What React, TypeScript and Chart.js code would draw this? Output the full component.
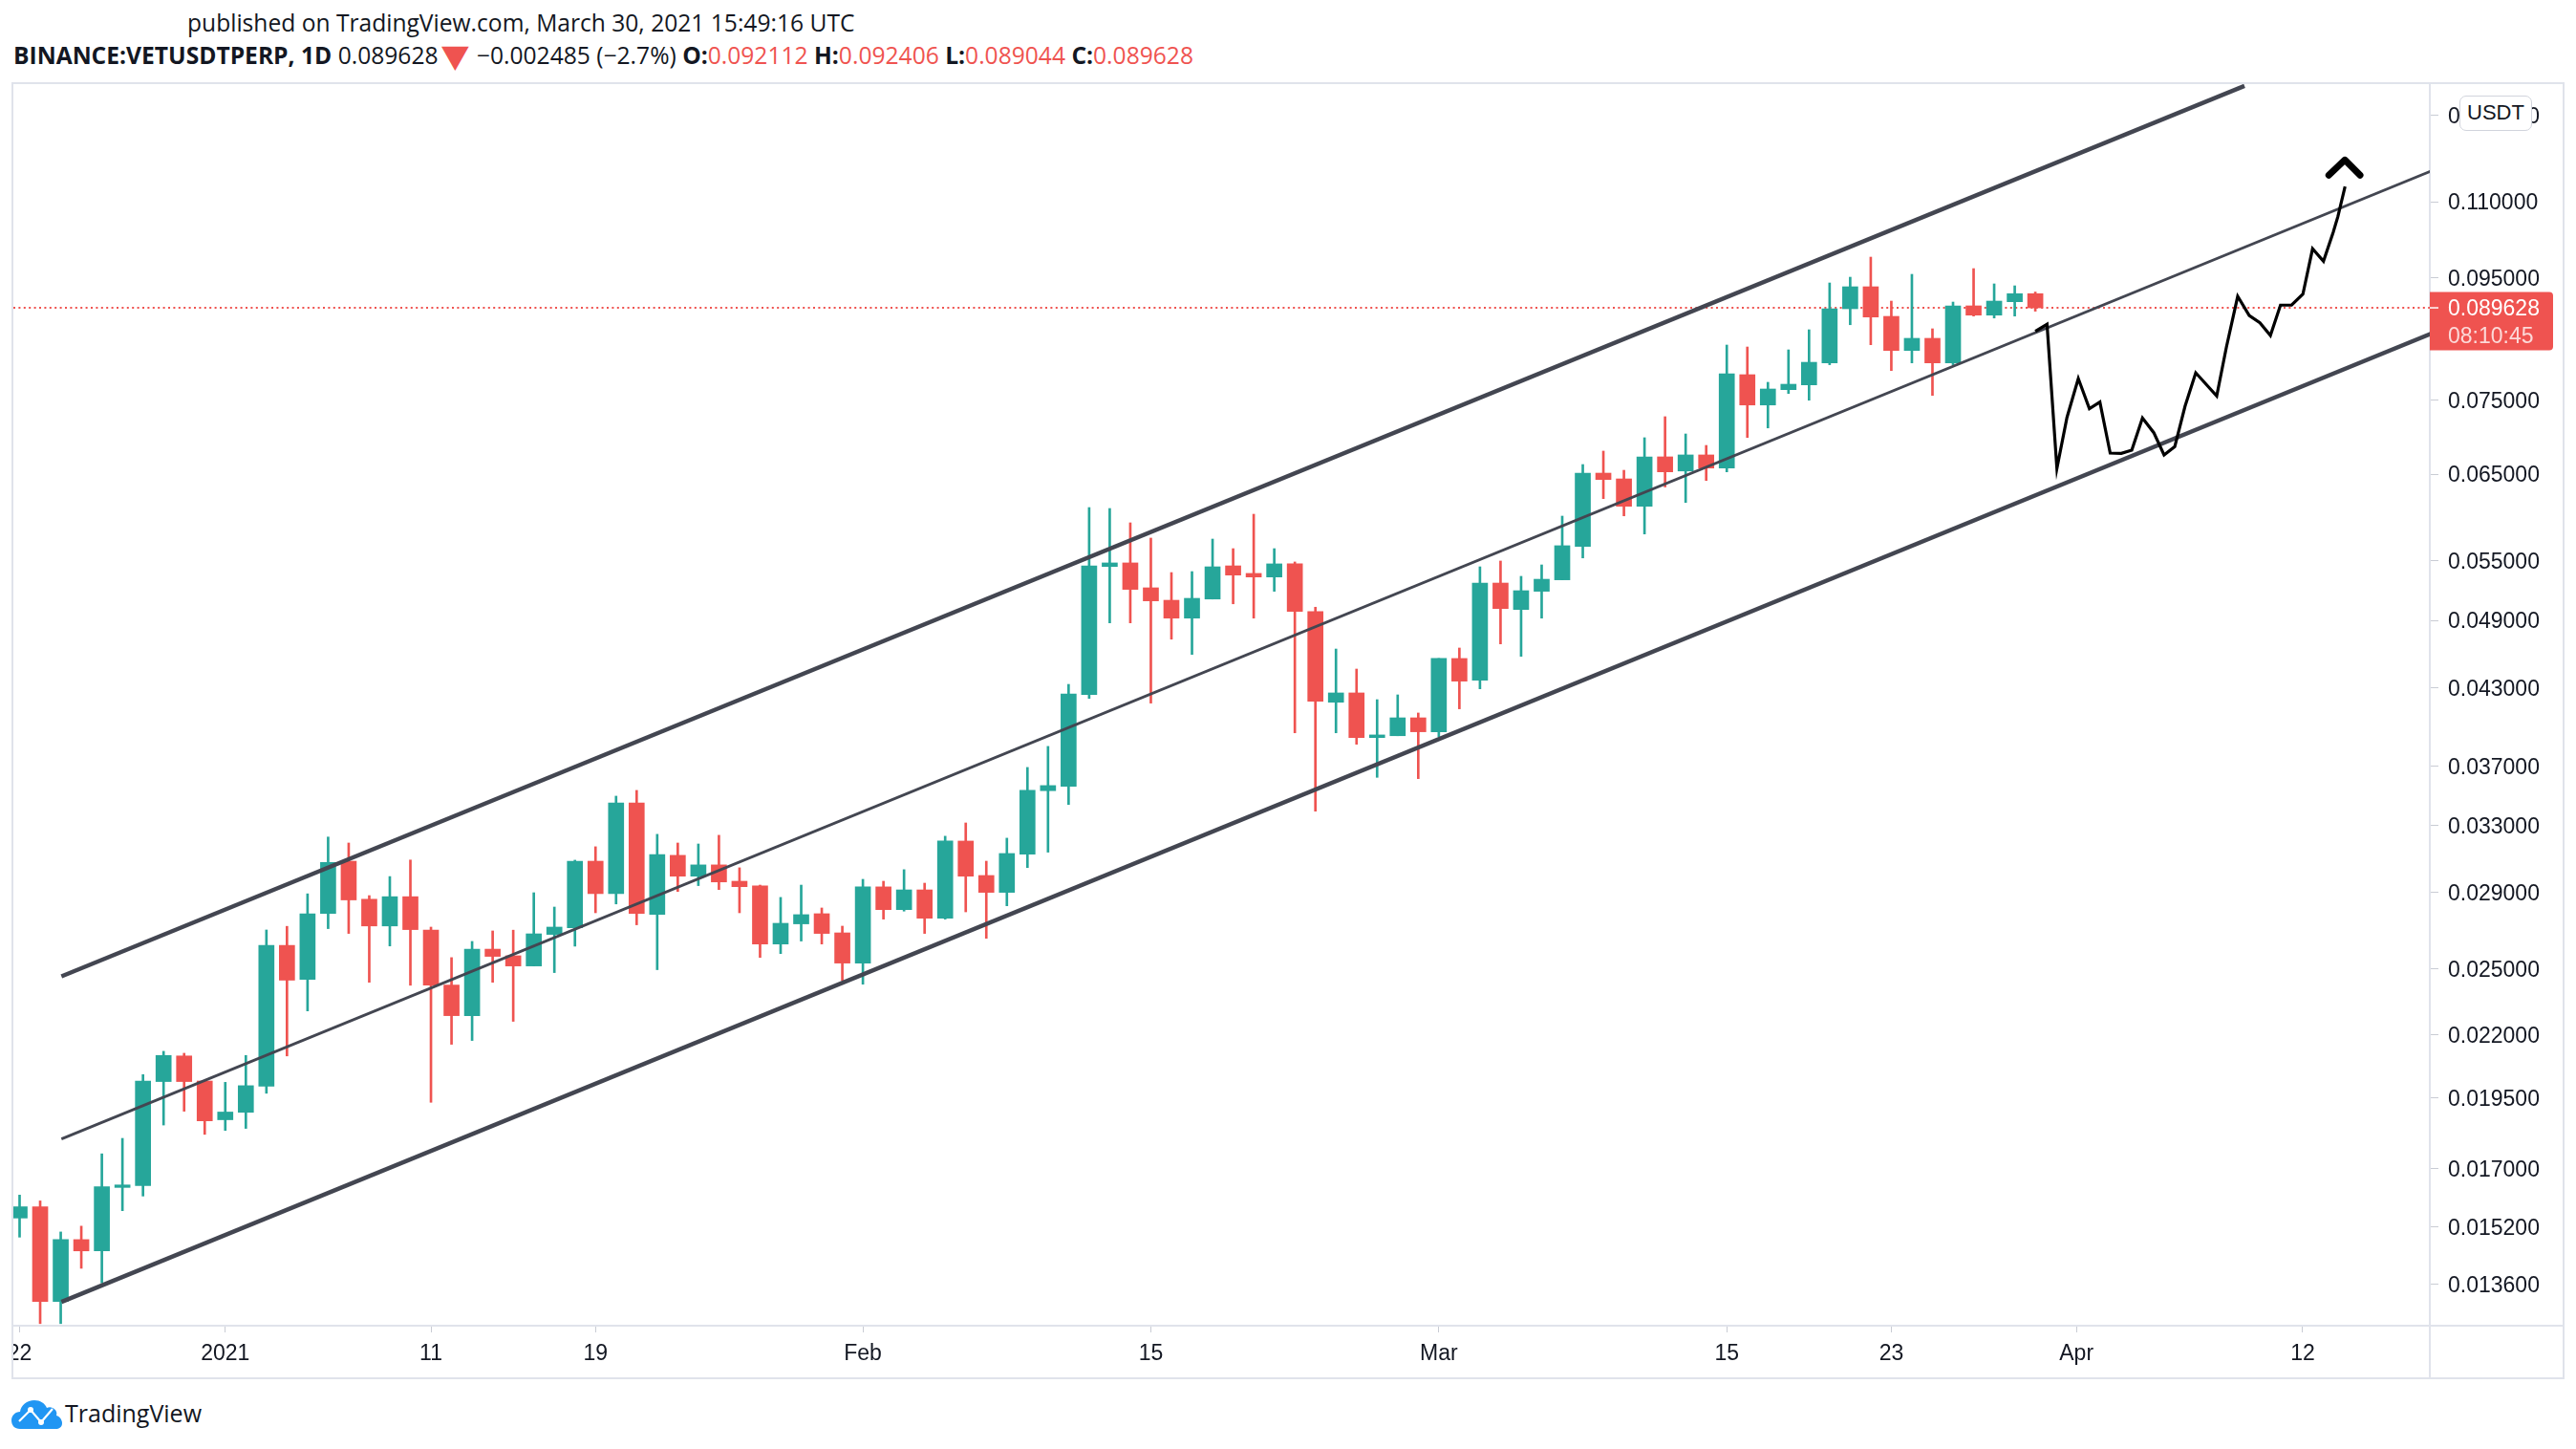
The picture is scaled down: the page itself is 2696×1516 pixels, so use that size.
import React, { useEffect, useRef } from 'react';
import { Chart, registerables } from 'chart.js';

Chart.register(...registerables);

// ---------- data ----------
const SYMBOL = 'BINANCE:VETUSDTPERP';
const INTERVAL = '1D';
const PUBLISHED = 'published on TradingView.com, March 30, 2021 15:49:16 UTC';
const CURRENCY = 'USDT';
const COUNTDOWN = '08:10:45';
const START_DATE = '2020-12-22';

const opens = [
  0.01545, 0.01579, 0.01315, 0.01482, 0.0145, 0.01639, 0.01645, 0.02011, 0.02113, 0.02013,
  0.01868, 0.01895, 0.01993, 0.02616, 0.0245, 0.02783, 0.03078, 0.0286, 0.02716, 0.02874,
  0.02695, 0.02423, 0.02284, 0.02597, 0.02564, 0.02514, 0.02672, 0.02707, 0.03078, 0.02891,
  0.03445, 0.02777, 0.03113, 0.0299, 0.03056, 0.02961, 0.02934, 0.02623, 0.02727, 0.02781,
  0.0268, 0.02528, 0.02929, 0.02803, 0.02912, 0.02757, 0.032, 0.02994, 0.02898, 0.0312,
  0.03527, 0.03557, 0.04247, 0.05438, 0.05476, 0.05219, 0.05095, 0.04922, 0.05107, 0.05445,
  0.05366, 0.05329, 0.05466, 0.04986, 0.04184, 0.0426, 0.03908, 0.03922, 0.0406, 0.03952,
  0.04553, 0.04366, 0.05267, 0.05005, 0.05184, 0.053, 0.05653, 0.06513, 0.06441, 0.06109,
  0.06721, 0.0654, 0.06746, 0.06577, 0.07877, 0.07429, 0.07652, 0.07723, 0.08058, 0.08947,
  0.09335, 0.08816, 0.08254, 0.0845, 0.08058, 0.08997, 0.08837, 0.09069, 0.092112,
];
const highs = [
  0.01615, 0.01597, 0.01504, 0.01521, 0.01749, 0.01802, 0.02038, 0.02132, 0.02124, 0.02015,
  0.02008, 0.02115, 0.02695, 0.02714, 0.0289, 0.03225, 0.03188, 0.0288, 0.02988, 0.03085,
  0.0271, 0.02555, 0.02636, 0.0269, 0.02694, 0.02896, 0.02817, 0.03084, 0.03165, 0.0349,
  0.03529, 0.03242, 0.03188, 0.03182, 0.03236, 0.03039, 0.02939, 0.0287, 0.02939, 0.02812,
  0.02715, 0.02972, 0.02961, 0.03028, 0.0295, 0.0323, 0.03314, 0.03078, 0.03218, 0.03689,
  0.03842, 0.04331, 0.06094, 0.06083, 0.05917, 0.05745, 0.05375, 0.05385, 0.05734, 0.05629,
  0.06016, 0.05629, 0.05486, 0.05027, 0.04637, 0.04461, 0.04205, 0.04244, 0.04098, 0.04553,
  0.04646, 0.05435, 0.05496, 0.05336, 0.05455, 0.05994, 0.06622, 0.06796, 0.06549, 0.06974,
  0.07263, 0.07025, 0.06871, 0.08341, 0.0831, 0.07762, 0.08264, 0.08591, 0.09404, 0.09509,
  0.09885, 0.0908, 0.09562, 0.08607, 0.09063, 0.09668, 0.09387, 0.09352, 0.092406,
];
const lows = [
  0.01489, 0.0126, 0.0126, 0.01402, 0.01363, 0.01567, 0.01612, 0.01849, 0.01899, 0.01816,
  0.0183, 0.01837, 0.01966, 0.02113, 0.02305, 0.02702, 0.02677, 0.02436, 0.02613, 0.02422,
  0.01932, 0.02161, 0.02177, 0.02436, 0.02259, 0.02514, 0.02482, 0.02612, 0.02786, 0.02834,
  0.02722, 0.02496, 0.02903, 0.02936, 0.02914, 0.02786, 0.02556, 0.02575, 0.02638, 0.02623,
  0.02445, 0.02427, 0.02752, 0.02795, 0.02677, 0.02752, 0.02791, 0.02652, 0.02824, 0.0304,
  0.03132, 0.03434, 0.04215, 0.04877, 0.04877, 0.04177, 0.04726, 0.04589, 0.05107, 0.0506,
  0.04922, 0.05184, 0.03944, 0.0339, 0.03944, 0.03858, 0.03619, 0.03922, 0.0361, 0.03915,
  0.04131, 0.04294, 0.04683, 0.04572, 0.04922, 0.053, 0.05529, 0.062, 0.05997, 0.05791,
  0.06341, 0.06154, 0.06421, 0.06529, 0.06977, 0.07107, 0.07596, 0.07498, 0.0803, 0.08675,
  0.08346, 0.0794, 0.08058, 0.07568, 0.0803, 0.08821, 0.08788, 0.08821, 0.089044,
];
const closes = [
  0.01579, 0.01315, 0.01482, 0.0145, 0.01641, 0.01647, 0.02013, 0.02115, 0.02011, 0.01864,
  0.01896, 0.01995, 0.02616, 0.02446, 0.02781, 0.03071, 0.02856, 0.02716, 0.02874, 0.02697,
  0.02423, 0.02284, 0.02597, 0.02561, 0.02514, 0.02675, 0.0271, 0.03078, 0.02891, 0.03445,
  0.02783, 0.03118, 0.0299, 0.03056, 0.02957, 0.0293, 0.02623, 0.0273, 0.02776, 0.02677,
  0.02528, 0.02929, 0.02803, 0.02912, 0.02757, 0.032, 0.0299, 0.02898, 0.03124, 0.03529,
  0.03562, 0.04252, 0.05445, 0.05476, 0.05203, 0.05089, 0.04922, 0.05114, 0.05435, 0.05349,
  0.05329, 0.05466, 0.04986, 0.04192, 0.0426, 0.03908, 0.03928, 0.0406, 0.03952, 0.04553,
  0.04358, 0.05267, 0.05014, 0.0519, 0.05306, 0.05661, 0.06513, 0.06433, 0.06109, 0.06721,
  0.06529, 0.06746, 0.06577, 0.07892, 0.07429, 0.07662, 0.07733, 0.08068, 0.08947, 0.09335,
  0.08805, 0.08254, 0.0845, 0.08058, 0.08997, 0.08837, 0.0908, 0.092113, 0.089628,
];

// time-axis ticks
const xTickDates = [
  '2020-12-22', '2021-01-01', '2021-01-11', '2021-01-19', '2021-02-01', '2021-02-15',
  '2021-03-01', '2021-03-15', '2021-03-23', '2021-04-01', '2021-04-12',
];
const xTickLabels = ['22', '2021', '11', '19', 'Feb', '15', 'Mar', '15', '23', 'Apr', '12'];

// price-axis ticks
const yTickValues = [
  0.0136, 0.0152, 0.017, 0.0195, 0.022, 0.025, 0.029, 0.033, 0.037, 0.043,
  0.049, 0.055, 0.065, 0.075, 0.095, 0.11, 0.13,
];

// visible range (days since start, price)
const X_MIN = -0.302;
const X_MAX = 117.18;
const Y_MIN = 0.012549;
const Y_MAX = 0.13807;

// ascending channel drawings (days since start, price)
const upperChannelDays = [2.035, 108.17];
const upperChannelValues = [0.02464, 0.1376];
const middleChannelDays = [2.035, 117.5];
const middleChannelValues = [0.018, 0.1172];
const lowerChannelDays = [2.035, 117.5];
const lowerChannelValues = [0.01314, 0.08563];

// hand-drawn projection path
const projectionDays = [
  98.0, 98.57, 99.05, 99.54, 100.09, 100.63, 101.14, 101.64, 102.18, 102.69,
  103.21, 103.76, 104.26, 104.78, 105.28, 105.8, 106.82, 107.29, 107.84, 108.4,
  108.92, 109.43, 109.92, 110.46, 111.01, 111.48, 112.01, 112.48, 112.71, 113.06,
];
const projectionValues = [
  0.08564, 0.08682, 0.06573, 0.07253, 0.07819, 0.07375, 0.07471, 0.0677, 0.06766, 0.06808,
  0.07245, 0.07042, 0.06746, 0.06855, 0.07411, 0.07906, 0.07559, 0.08306, 0.09164, 0.08832,
  0.08708, 0.08496, 0.09009, 0.09009, 0.09203, 0.10045, 0.09807, 0.10365, 0.10688, 0.11332,
];
const arrowDays = [112.27, 113.05, 113.79];
const arrowValues = [0.11579, 0.11926, 0.11579];

// ---------- styling ----------
const UP = '#26a69a';
const DOWN = '#ef5350';
const TEXT = '#131722';
const LINE = '#434651';
const FRAME = '#e0e3eb';
const AXIS_FONT = '"Liberation Sans", Arial, sans-serif';
const UI_FONT = '"Open Sans", "Liberation Sans", sans-serif';

const dayIndex = (d: string) =>
  (Date.parse(d + 'T00:00:00Z') - Date.parse(START_DATE + 'T00:00:00Z')) / 86400000;

const fmt = (v: number) => v.toFixed(6);

export default function App() {
  const ref = useRef<HTMLCanvasElement | null>(null);
  const n = closes.length;
  const last = closes[n - 1];
  const prev = closes[n - 2];
  const change = last - prev;
  const pct = (change / prev) * 100;
  const minus = '\u2212';

  useEffect(() => {
    document.body.style.margin = '0';
    const canvas = ref.current;
    if (!canvas) return;
    const idx = closes.map((_, i) => i);
    const colors = idx.map((i) => (closes[i] >= opens[i] ? UP : DOWN));
    const xTickDays = xTickDates.map(dayIndex);
    const toPts = (xs: number[], ys: number[]) => xs.map((x, i) => ({ x, y: ys[i] }));

    const decor = {
      id: 'decor',
      afterDraw(chart: any) {
        const { ctx, chartArea } = chart;
        const y = chart.scales.y;
        const py = y.getPixelForValue(last);
        ctx.save();
        // separators across the full axis strips
        ctx.strokeStyle = FRAME;
        ctx.lineWidth = 2;
        ctx.beginPath();
        ctx.moveTo(chartArea.right, chartArea.bottom);
        ctx.lineTo(chart.width, chartArea.bottom);
        ctx.moveTo(chartArea.right, chartArea.bottom);
        ctx.lineTo(chartArea.right, chart.height);
        ctx.stroke();
        // last price label
        const lx = chartArea.right;
        const top = py - 16.5;
        const w = 129;
        const h = 61;
        const r = 4;
        ctx.fillStyle = DOWN;
        ctx.beginPath();
        ctx.moveTo(lx, top);
        ctx.lineTo(lx + w - r, top);
        ctx.quadraticCurveTo(lx + w, top, lx + w, top + r);
        ctx.lineTo(lx + w, top + h - r);
        ctx.quadraticCurveTo(lx + w, top + h, lx + w - r, top + h);
        ctx.lineTo(lx, top + h);
        ctx.closePath();
        ctx.fill();
        ctx.strokeStyle = '#ffffff';
        ctx.lineWidth = 1.5;
        ctx.beginPath();
        ctx.moveTo(lx, py);
        ctx.lineTo(lx + 9, py);
        ctx.stroke();
        ctx.font = '23px ' + AXIS_FONT;
        ctx.textBaseline = 'middle';
        ctx.textAlign = 'left';
        ctx.fillStyle = '#ffffff';
        ctx.fillText(fmt(last), lx + 19, py + 2);
        ctx.fillStyle = 'rgba(255,255,255,0.78)';
        ctx.fillText(COUNTDOWN, lx + 19, py + 31);
        ctx.restore();
      },
    };

    const chart = new Chart(canvas, {
      type: 'bar',
      data: {
        datasets: [
          {
            type: 'line',
            label: 'projection',
            data: toPts(projectionDays, projectionValues),
            borderColor: '#000000',
            borderWidth: 3.2,
            borderJoinStyle: 'miter',
            pointRadius: 0,
            tension: 0,
            order: 0,
            clip: 0,
          },
          {
            type: 'line',
            label: 'arrow',
            data: toPts(arrowDays, arrowValues),
            borderColor: '#000000',
            borderWidth: 7,
            borderCapStyle: 'round',
            borderJoinStyle: 'round',
            pointRadius: 0,
            tension: 0,
            order: 0,
            clip: 0,
          },
          {
            type: 'line',
            label: 'upper',
            data: toPts(upperChannelDays, upperChannelValues),
            borderColor: LINE,
            borderWidth: 4.5,
            pointRadius: 0,
            order: 1,
            clip: 0,
          },
          {
            type: 'line',
            label: 'middle',
            data: toPts(middleChannelDays, middleChannelValues),
            borderColor: LINE,
            borderWidth: 2.8,
            pointRadius: 0,
            order: 1,
            clip: 0,
          },
          {
            type: 'line',
            label: 'lower',
            data: toPts(lowerChannelDays, lowerChannelValues),
            borderColor: LINE,
            borderWidth: 4.5,
            pointRadius: 0,
            order: 1,
            clip: 0,
          },
          {
            type: 'bar',
            label: 'body',
            data: idx.map((i) => ({ x: i, y: [opens[i], closes[i]] })),
            backgroundColor: colors,
            borderWidth: 0,
            barThickness: 16,
            grouped: false,
            order: 2,
          },
          {
            type: 'bar',
            label: 'wick',
            data: idx.map((i) => ({ x: i, y: [lows[i], highs[i]] })),
            backgroundColor: colors,
            borderWidth: 0,
            barThickness: 2,
            grouped: false,
            order: 3,
          },
          {
            type: 'line',
            label: 'last price',
            data: [
              { x: X_MIN, y: last },
              { x: X_MAX, y: last },
            ],
            borderColor: DOWN,
            borderWidth: 2,
            borderDash: [2, 3.4],
            pointRadius: 0,
            order: 4,
            clip: 0,
          },
        ],
      } as any,
      options: {
        animation: false,
        responsive: false,
        maintainAspectRatio: false,
        devicePixelRatio: 1,
        layout: { padding: 0 },
        plugins: { legend: { display: false }, tooltip: { enabled: false } },
        scales: {
          x: {
            type: 'linear',
            offset: false,
            min: X_MIN,
            max: X_MAX,
            grid: {
              display: true,
              offset: false,
              drawOnChartArea: false,
              drawTicks: true,
              tickLength: 7,
              color: '#c9ccd4',
            },
            border: { display: true, color: FRAME, width: 2 },
            ticks: {
              autoSkip: false,
              maxRotation: 0,
              minRotation: 0,
              padding: 9,
              color: TEXT,
              font: { family: AXIS_FONT, size: 23 },
              callback: (_v: any, i: number) => xTickLabels[i],
            },
            afterBuildTicks: (s: any) => {
              s.ticks = xTickDays.map((v) => ({ value: v }));
            },
            afterFit: (s: any) => {
              s.height = 54;
              s.paddingLeft = 0;
              s.paddingRight = 0;
            },
          },
          y: {
            type: 'logarithmic',
            position: 'right',
            min: Y_MIN,
            max: Y_MAX,
            grid: { display: true, drawOnChartArea: false, drawTicks: true, tickLength: 9, color: '#c9ccd4' },
            border: { display: true, color: FRAME, width: 2 },
            ticks: {
              autoSkip: false,
              padding: 10,
              labelOffset: 2,
              color: TEXT,
              font: { family: AXIS_FONT, size: 23 },
              callback: (v: any) => fmt(Number(v)),
            },
            afterBuildTicks: (s: any) => {
              s.ticks = yTickValues.map((v) => ({ value: v }));
            },
            afterFit: (s: any) => {
              s.width = 139;
              s.paddingTop = 0;
              s.paddingBottom = 0;
            },
          },
        },
      } as any,
      plugins: [decor],
    });
    return () => chart.destroy();
  }, []);

  const red = { color: DOWN };

  return (
    <div
      style={{
        position: 'fixed',
        left: 0,
        top: 0,
        width: 2696,
        height: 1516,
        background: '#ffffff',
        color: TEXT,
        fontFamily: UI_FONT,
        overflow: 'hidden',
      }}
    >
      <div style={{ position: 'absolute', left: 196, top: 9, fontSize: 24.6, lineHeight: '30px', whiteSpace: 'nowrap' }}>
        {PUBLISHED}
      </div>
      <div style={{ position: 'absolute', left: 14, top: 43, fontSize: 24.6, lineHeight: '30px', whiteSpace: 'nowrap' }}>
        <b>
          {SYMBOL}, {INTERVAL}
        </b>{' '}
        {fmt(last)}
        <span
          style={{
            ...red,
            display: 'inline-block',
            fontFamily: '"DejaVu Sans", sans-serif',
            fontSize: 22,
            lineHeight: '30px',
            transform: 'scale(1.7, 1.5)',
            transformOrigin: '50% 55%',
            margin: '0 8px 0 9px',
          }}
        >
          ▼
        </span>{' '}
        {change < 0 ? minus : '+'}
        {fmt(Math.abs(change))} ({change < 0 ? minus : '+'}
        {Math.abs(pct).toFixed(1)}%) <b>O:</b>
        <span style={red}>{fmt(opens[n - 1])}</span> <b>H:</b>
        <span style={red}>{fmt(highs[n - 1])}</span> <b>L:</b>
        <span style={red}>{fmt(lows[n - 1])}</span> <b>C:</b>
        <span style={red}>{fmt(closes[n - 1])}</span>
      </div>

      <canvas
        ref={ref}
        width={2668}
        height={1353}
        style={{ position: 'absolute', left: 14, top: 88, width: 2668, height: 1353 }}
      />
      <div
        style={{
          position: 'absolute',
          left: 12,
          top: 86,
          width: 2672,
          height: 1357,
          border: '2px solid ' + FRAME,
          boxSizing: 'border-box',
          pointerEvents: 'none',
        }}
      />
      <div
        style={{
          position: 'absolute',
          left: 2574,
          top: 100,
          width: 76,
          height: 37,
          boxSizing: 'border-box',
          border: '1.5px solid #d1d4dc',
          borderRadius: 7,
          background: '#ffffff',
          fontFamily: AXIS_FONT,
          fontSize: 22,
          lineHeight: '34px',
          textAlign: 'center',
          color: TEXT,
        }}
      >
        {CURRENCY}
      </div>

      <svg
        style={{ position: 'absolute', left: 12, top: 1464 }}
        width={53}
        height={31}
        viewBox="0 0 53 31"
      >
        <path
          d="M9 31 C3 31 0 27 0 22 C0 17 4 13 9 13 C10 6 16 1 24 1 C30 1 35 4 37 9 C39 8 41 8 43 9 C47 11 48 14 47 17 C51 18 53 22 53 25 C53 29 50 31 46 31 Z"
          fill="#2196f3"
        />
        <polyline points="8,23 20,11 31,24 43,10" fill="none" stroke="#ffffff" strokeWidth={2.2} />
        <circle cx={20} cy={11} r={3} fill="#ffffff" />
        <circle cx={31} cy={24} r={3} fill="#ffffff" />
      </svg>
      <div
        style={{
          position: 'absolute',
          left: 68,
          top: 1462,
          fontSize: 25,
          lineHeight: '32px',
          whiteSpace: 'nowrap',
          color: TEXT,
        }}
      >
        TradingView
      </div>
    </div>
  );
}
